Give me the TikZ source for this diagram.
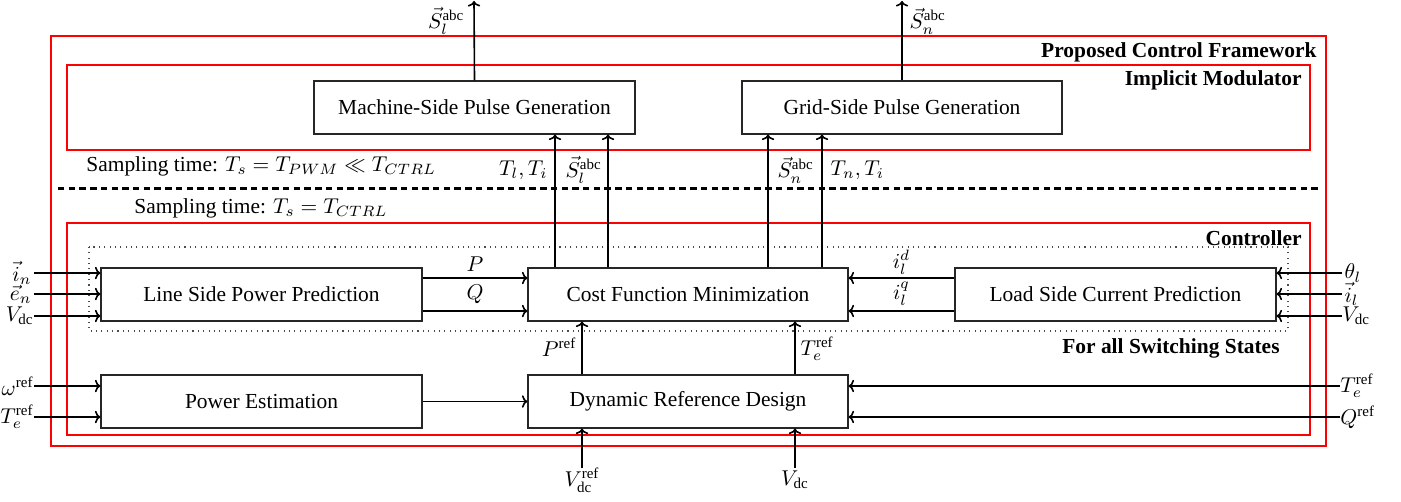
\documentclass[tikz,border=0pt]{standalone}
\usepackage{amsmath}
\usepackage{fontspec}
\setmainfont{Liberation Serif}
\usetikzlibrary{calc,arrows.meta}
\newcommand\pxu{0.4667pt}
\tikzset{
  blk/.style={draw=black!85, line width=0.5pt, inner sep=0pt, minimum height=53*\pxu, font=\fontsize{10}{12}\selectfont},
  arr/.style={-{To[length=2.6pt,width=5.8pt]}, line width=0.75pt},
  redbox/.style={draw=red, line width=0.55pt},
  lbl/.style={inner sep=1pt, font=\fontsize{10}{12}\selectfont},
  ttl/.style={inner sep=0pt, font=\fontsize{10}{12}\selectfont\bfseries, anchor=east},
}
\begin{document}
\begin{tikzpicture}[x=\pxu, y=-\pxu]
\useasboundingbox (0,0) rectangle (1401,502);
% frames
\draw[redbox] (51,36) rectangle (1326,446);
\draw[redbox] (67,65) rectangle (1310,150);
\draw[redbox] (67,223) rectangle (1310,435);
\draw[black!70, dotted, line width=0.5pt] (89,247) rectangle (1288,331);
\draw[line width=1.4pt, dash pattern=on 3pt off 2pt] (58,188) -- (1318,188);
% titles
\node[ttl] (tpcf) at (1317,52) {Proposed Control Framework};
\node[ttl] (tim) at (1302,80) {Implicit Modulator};
\node[ttl] (tctl) at (1302,238) {Controller};
\node[ttl] (tfa) at (1280,348) {For all Switching States};
\node[lbl, anchor=west, inner sep=0pt] (st1) at (86,166) {Sampling time: $T_s = T_{PWM} \ll T_{CTRL}$};
\node[lbl, anchor=west, inner sep=0pt] (st2) at (134,208) {Sampling time: $T_s = T_{CTRL}$};
% blocks
\node[blk, minimum width=321*\pxu] (mach) at (474.5,107.5) {Machine-Side Pulse Generation};
\node[blk, minimum width=320*\pxu] (grid) at (902,107.5) {Grid-Side Pulse Generation};
\node[blk, minimum width=321*\pxu] (line) at (261.5,294.5) {Line Side Power Prediction};
\node[blk, minimum width=320*\pxu] (cost) at (688,294.5) {Cost Function Minimization};
\node[blk, minimum width=321*\pxu] (load) at (1115.5,294.5) {Load Side Current Prediction};
\node[blk, minimum width=321*\pxu] (pest) at (261.5,401.5) {Power Estimation};
\node[blk, minimum width=320*\pxu] (drd) at (688,401.5) {Dynamic Reference Design};
% outputs at top
\coordinate (oml) at (474,1);
\coordinate (ogn) at (902,1);
\draw[arr] (mach.north) -- (oml);
\draw[arr] (grid.north) -- (ogn);
\node[lbl, anchor=east] (lsl) at (467,21) {$\vec{S}_l^{\text{abc}}$};
\node[lbl, anchor=west] (lsn) at (907,21) {$\vec{S}_n^{\text{abc}}$};
% cost -> pulse generators
\coordinate (x1) at (555,0);
\coordinate (x2) at (608,0);
\coordinate (x3) at (768,0);
\coordinate (x4) at (822,0);
\draw[arr] (x1 |- cost.north) -- (x1 |- mach.south);
\draw[arr] (x2 |- cost.north) -- (x2 |- mach.south);
\draw[arr] (x3 |- cost.north) -- (x3 |- grid.south);
\draw[arr] (x4 |- cost.north) -- (x4 |- grid.south);
\node[lbl, anchor=east] (ltl) at (550,170) {$T_l, T_i$};
\node[lbl, anchor=west] (lsl2) at (563,170) {$\vec{S}_l^{\text{abc}}$};
\node[lbl, anchor=west] (lsn2) at (775,170) {$\vec{S}_n^{\text{abc}}$};
\node[lbl, anchor=west] (ltn) at (828,170) {$T_n, T_i$};
% line side inputs
\coordinate (in1) at (34,273);
\coordinate (in2) at (34,294);
\coordinate (in3) at (34,316);
\draw[arr] (in1) -- (line.west |- in1);
\draw[arr] (in2) -- (line.west |- in2);
\draw[arr] (in3) -- (line.west |- in3);
\node[lbl, anchor=east] (lin) at (in1) {$\vec{i}_n$};
\node[lbl, anchor=east] (len) at (in2) {$\vec{e}_n$};
\node[lbl, anchor=east, inner sep=0pt] (lvdc1) at (in3) {$V_{\text{dc}}$};
% load side inputs
\coordinate (il1) at (1342,273);
\coordinate (il2) at (1342,294);
\coordinate (il3) at (1342,316);
\draw[arr] (il1) -- (load.east |- il1);
\draw[arr] (il2) -- (load.east |- il2);
\draw[arr] (il3) -- (load.east |- il3);
\node[lbl, anchor=west] (lth) at (il1) {$\theta_l$};
\node[lbl, anchor=west] (lil) at (il2) {$\vec{i}_l$};
\node[lbl, anchor=west, inner sep=0pt] (lvdc2) at (il3) {$V_{\text{dc}}$};
% P, Q
\coordinate (yp) at (0,278);
\coordinate (yq) at (0,311);
\draw[arr] (line.east |- yp) -- (cost.west |- yp);
\draw[arr] (line.east |- yq) -- (cost.west |- yq);
\node[lbl] (lp) at (475,264) {$P$};
\node[lbl] (lq) at (475,294) {$Q$};
\draw[arr] (load.west |- yp) -- (cost.east |- yp);
\draw[arr] (load.west |- yq) -- (cost.east |- yq);
\node[lbl] (lid) at (901.5,262) {$i_l^d$};
\node[lbl] (liq) at (901.5,294) {$i_l^q$};
% power estimation
\draw[arr] (pest.east) -- (drd.west);
\coordinate (ip1) at (34,386);
\coordinate (ip2) at (34,417);
\draw[arr] (ip1) -- (pest.west |- ip1);
\draw[arr] (ip2) -- (pest.west |- ip2);
\node[lbl, anchor=east, inner sep=0pt] (lw) at (ip1) {$\omega^{\text{ref}}$};
\node[lbl, anchor=east, inner sep=0pt] (lte1) at (ip2) {$T_e^{\text{ref}}$};
% drd -> cost
\coordinate (xa) at (582,0);
\coordinate (xb) at (795,0);
\draw[arr] (xa |- drd.north) -- (xa |- cost.south);
\draw[arr] (xb |- drd.north) -- (xb |- cost.south);
\node[lbl, anchor=east] (lpref) at (579,347) {$P^{\text{ref}}$};
\node[lbl, anchor=west] (lteref) at (798,349) {$T_e^{\text{ref}}$};
% bottom inputs
\coordinate (ib1) at (582,468);
\coordinate (ib2) at (795,468);
\draw[arr] (ib1) -- (xa |- drd.south);
\draw[arr] (ib2) -- (xb |- drd.south);
\node[lbl, anchor=north, inner sep=0pt] (lvref) at (ib1) {$V_{\text{dc}}^{\text{ref}}$};
\node[lbl, anchor=north, inner sep=1pt] (lvdc3) at (ib2) {$V_{\text{dc}}$};
% right inputs of drd
\coordinate (ir1) at (1340,386);
\coordinate (ir2) at (1340,417);
\draw[arr] (ir1) -- (drd.east |- ir1);
\draw[arr] (ir2) -- (drd.east |- ir2);
\node[lbl, anchor=west, inner sep=0pt] (lte2) at (ir1) {$T_e^{\text{ref}}$};
\node[lbl, anchor=west, inner sep=0pt] (lqref) at (ir2) {$Q^{\text{ref}}$};
\end{tikzpicture}
\end{document}
